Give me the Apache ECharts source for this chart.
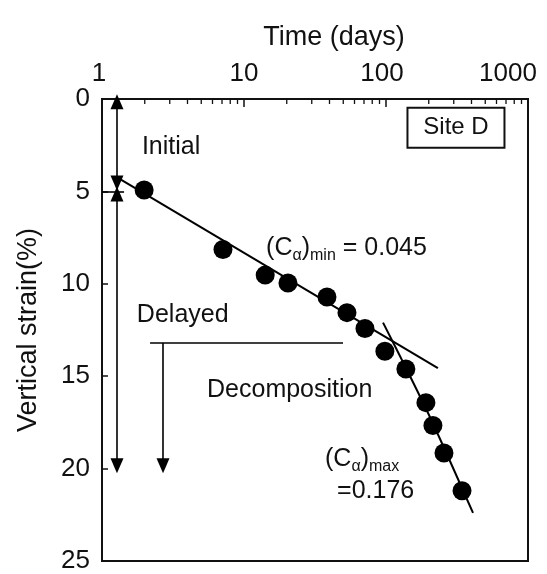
<!DOCTYPE html>
<html>
<head>
<meta charset="utf-8">
<script src="https://cdn.jsdelivr.net/npm/echarts@6/dist/echarts.min.js"></script>
<style>html,body{margin:0;padding:0;background:#fff;}#c{width:547px;height:574px;}</style>
</head>
<body>
<div id="c"></div>
<script>
// ---- data ----
const timeDays = [1.98, 7.11, 14.1, 20.4, 38.4, 53.1, 71.1, 98.2, 138, 191, 214, 256, 343];
const strainPct = [4.92, 8.14, 9.53, 9.96, 10.71, 11.56, 12.42, 13.65, 14.61, 16.43, 17.67, 19.16, 21.2];
const caMinLine = [[1.34, 4.34], [232, 14.56]];
const caMaxLine = [[95.3, 12.1], [140.6, 14.67], [211, 17.45], [410, 22.4]];
const xTicks = [1, 10, 100, 1000];
const yTicks = [0, 5, 10, 15, 20, 25];
const minorX = [2,3,4,5,6,7,8,9,20,30,40,50,60,70,80,90,200,300,400,500,600,700,800,900];
// arrows / guide lines (data coordinates)
const arrowX = 1.275;
const initialRange = [0.15, 4.55];
const delayedRange = [5.14, 19.85];
const boundaryTick = [[1, 5], [1.43, 5]];
const decompLine = [[2.18, 13.2], [49.8, 13.2]];
const decompArrow = [[2.69, 13.2], [2.69, 19.85]];
// annotations: [x, y, text]
const annotations = [
  [1.91, 2.62, 'Initial'],
  [1.76, 11.67, 'Delayed'],
  [5.49, 15.74, 'Decomposition'],
  [14.3, 8.08, '{n|(C}{s|α}{n|)}{s|min}{n| = 0.045}'],
  [37.2, 19.49, '{n|(C}{s|α}{n|)}{s|max}'],
  [45.2, 21.2, '=0.176']
];
const siteLabel = [311, 1.55, 'Site D'];

const FONT = "'Liberation Sans', Arial, sans-serif";
const INK = '#111';

const chart = echarts.init(document.getElementById('c'));
const labelShift = {1: 6, 10: 0, 100: 8, 1000: 40};

chart.setOption({
  animation: false,
  backgroundColor: '#fff',
  grid: {left: 102, right: 19, top: 99, bottom: 8, show: true, borderColor: INK, borderWidth: 2},
  xAxis: {
    type: 'log', logBase: 10, min: 1, max: 1000, position: 'top',
    name: 'Time (days)', nameLocation: 'middle', nameGap: 48,
    nameTextStyle: {fontFamily: FONT, fontSize: 27, color: INK, padding: [0, 0, 0, 38]},
    axisLine: {show: true, lineStyle: {color: INK, width: 2}},
    axisTick: {show: true, inside: true, length: 8, lineStyle: {color: INK, width: 1.5}},
    splitLine: {show: false},
    axisLabel: {
      margin: 12, fontFamily: FONT, fontSize: 26, color: INK, showMinLabel: true, showMaxLabel: true,
      formatter: function (v) {
        const k = Math.round(v);
        return '{t' + k + '|' + k + '}';
      },
      rich: Object.fromEntries(xTicks.map(t => ['t' + t, {fontFamily: FONT, fontSize: 26, color: INK, padding: [0, labelShift[t], 0, 0]}]))
    }
  },
  yAxis: {
    type: 'value', inverse: true, min: 0, max: 25, interval: 5,
    name: 'Vertical strain(%)', nameLocation: 'middle', nameGap: 60,
    nameTextStyle: {fontFamily: FONT, fontSize: 27, color: INK},
    axisLine: {show: true, lineStyle: {color: INK, width: 2}},
    axisTick: {show: true, inside: true, length: 6, lineStyle: {color: INK, width: 1.5}},
    splitLine: {show: false},
    axisLabel: {margin: 12, fontFamily: FONT, fontSize: 26, color: INK}
  },
  series: [
    {
      type: 'custom', silent: true, clip: false,
      data: minorX.map(v => [v, 0]),
      renderItem: function (params, api) {
        const p = api.coord([api.value(0), 0]);
        return {type: 'line', shape: {x1: p[0], y1: p[1], x2: p[0], y2: p[1] + 5},
          style: {stroke: INK, lineWidth: 1.3}};
      }
    },
    {
      type: 'line', data: caMinLine, symbol: 'none', silent: true,
      lineStyle: {color: '#000', width: 2}
    },
    {
      type: 'line', data: caMaxLine, symbol: 'none', silent: true, smooth: 0.3,
      lineStyle: {color: '#000', width: 2}
    },
    {
      type: 'scatter', data: timeDays.map((t, i) => [t, strainPct[i]]),
      symbol: 'circle', symbolSize: 19, itemStyle: {color: '#000', opacity: 1}, silent: true,
      markLine: {
        silent: true, animation: false,
        symbolSize: [13, 15],
        label: {show: false},
        lineStyle: {color: '#000', width: 1.6, type: 'solid', opacity: 1},
        data: [
          [{coord: [arrowX, initialRange[0]], symbol: 'triangle'}, {coord: [arrowX, initialRange[1]], symbol: 'triangle'}],
          [{coord: [arrowX, delayedRange[0]], symbol: 'triangle'}, {coord: [arrowX, delayedRange[1]], symbol: 'triangle'}],
          [{coord: boundaryTick[0], symbol: 'none'}, {coord: boundaryTick[1], symbol: 'none'}],
          [{coord: decompLine[0], symbol: 'none'}, {coord: decompLine[1], symbol: 'none'}],
          [{coord: decompArrow[0], symbol: 'none'}, {coord: decompArrow[1], symbol: 'triangle'}]
        ]
      }
    },
    {
      type: 'scatter', symbolSize: 0, silent: true,
      itemStyle: {opacity: 1},
      data: annotations.map(a => ({value: [a[0], a[1]], label: {formatter: a[2]}})),
      label: {
        show: true, position: 'right', distance: 0,
        fontFamily: FONT, fontSize: 25, color: INK,
        rich: {
          n: {fontFamily: FONT, fontSize: 25, color: INK, lineHeight: 30},
          s: {fontFamily: FONT, fontSize: 16, color: INK, lineHeight: 30, verticalAlign: 'bottom', padding: [6, 0, 0, 0]}
        }
      }
    },
    {
      type: 'scatter', symbolSize: 0, silent: true,
      itemStyle: {opacity: 1},
      data: [{value: [siteLabel[0], siteLabel[1]], label: {formatter: siteLabel[2]}}],
      label: {
        show: true, position: 'inside',
        fontFamily: FONT, fontSize: 24, color: INK,
        width: 97, height: 40, lineHeight: 40, align: 'center', verticalAlign: 'middle',
        borderColor: INK, borderWidth: 2
      }
    }
  ]
});
</script>
</body>
</html>
